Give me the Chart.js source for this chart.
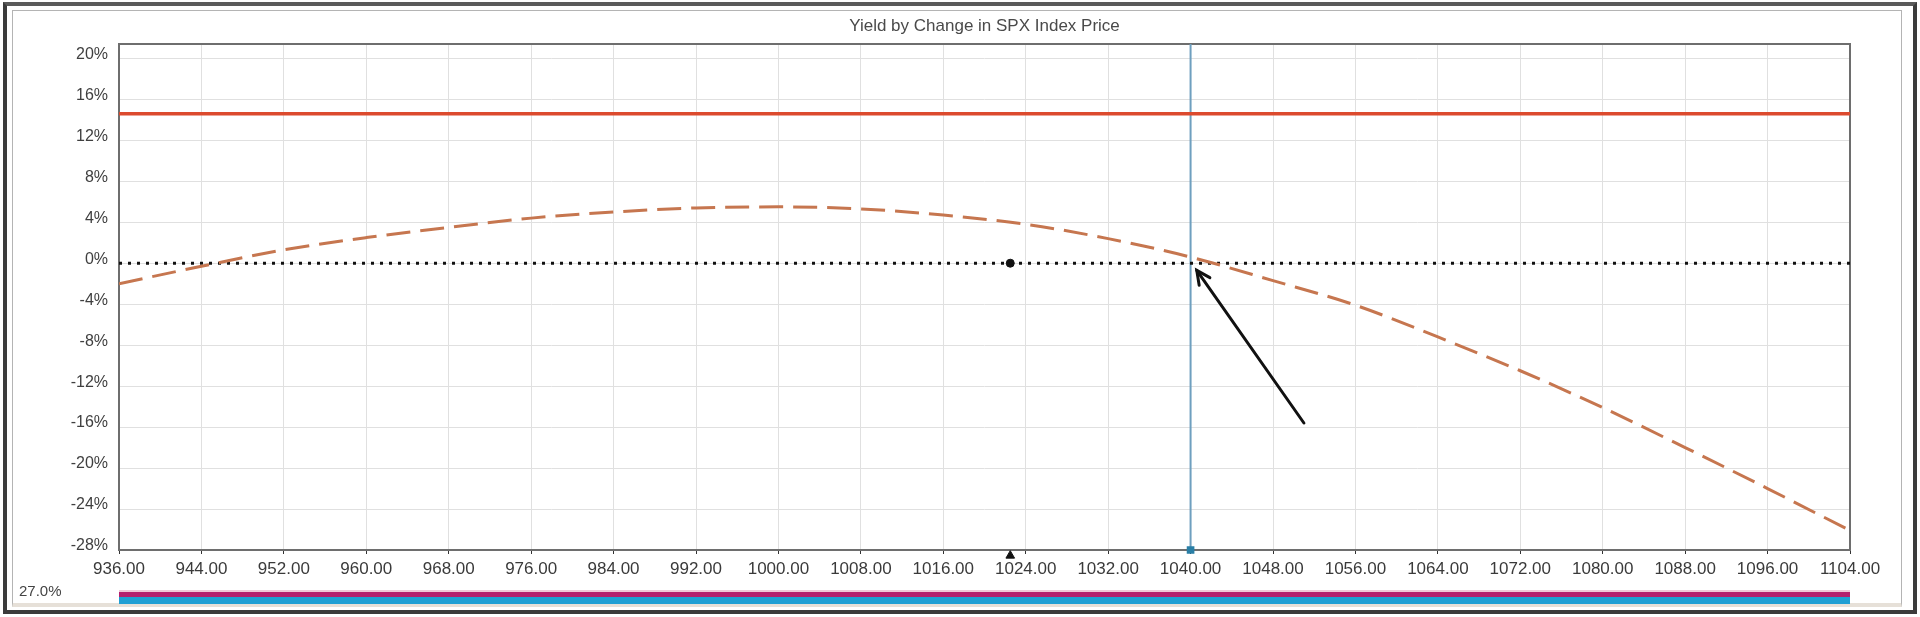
<!DOCTYPE html>
<html>
<head>
<meta charset="utf-8">
<script src="https://cdn.jsdelivr.net/npm/chart.js@4.4.1/dist/chart.umd.min.js"></script>
<style>
  html, body { margin: 0; padding: 0; background: #fff; }
  body { width: 1920px; height: 617px; position: relative; overflow: hidden; }
  .frame-outer { position: absolute; left: 3px; top: 2px; width: 1906px; height: 604px; border: 4px solid #3b3b3b; border-top-color: #5a5a5a; }
  .frame-inner { position: absolute; left: 12px; top: 10px; width: 1888px; height: 592px; border: 1px solid #b4b4b4; border-bottom: 4px solid #e6e0d8; }
  #wrap { position: absolute; left: 0; top: 0; width: 1920px; height: 617px; }
</style>
</head>
<body>
<div class="frame-outer"></div>
<div class="frame-inner"></div>
<div id="wrap"><canvas id="chartYield"></canvas></div>
<script>
// SPX price points along the x axis
const prices = [936, 944, 952, 960, 968, 976, 984, 992, 1000, 1008, 1016,
  1024, 1032, 1040, 1048, 1056, 1064, 1072, 1080, 1088, 1096, 1104]
// yield (%) of the position at each price
const yieldPct = [-2.0, -0.3, 1.3, 2.5, 3.5, 4.4, 5.0, 5.4, 5.5, 5.3, 4.7,
  3.8, 2.4, 0.6, -1.7, -4.1, -7.2, -10.5, -14.1, -18.0, -22.0, -26.1]
const yTicks = [-28, -24, -20, -16, -12, -8, -4, 0, 4, 8, 12, 16, 20]
const yMin = -28
const yMax = 21.4
const targetYield = 14.6
const zeroLine = 0
const currentPrice = 1022.5
const markerPrice = 1040
const arrowFrom = [1051, -15.6]
const arrowTo = [1040.6, -0.7]
const rangeBar = [936, 1104]
const rangeLabel = '27.0%'
const chartTitle = 'Yield by Change in SPX Index Price'

const FONT = '"Liberation Sans", Arial, sans-serif'
const xMin = prices[0]
const xMax = prices[prices.length - 1]

const decorations = {
  id: 'decorations',
  beforeDatasetsDraw(chart) {
    const { ctx, chartArea: a } = chart
    ctx.save()
    ctx.strokeStyle = '#6e6e6e'
    ctx.lineWidth = 2
    ctx.strokeRect(a.left, a.top, a.right - a.left, a.bottom - a.top)
    ctx.restore()
  },
  afterDatasetsDraw(chart) {
    const { ctx, chartArea: a, scales } = chart
    const x = scales.x
    const y = scales.y
    ctx.save()

    // title
    ctx.fillStyle = '#4a4a4a'
    ctx.font = '17px ' + FONT
    ctx.textAlign = 'center'
    ctx.textBaseline = 'middle'
    ctx.fillText(chartTitle, (a.left + a.right) / 2, 26)

    // arrow
    const x1 = x.getPixelForValue(arrowFrom[0])
    const y1 = y.getPixelForValue(arrowFrom[1])
    const x2 = x.getPixelForValue(arrowTo[0])
    const y2 = y.getPixelForValue(arrowTo[1])
    const ang = Math.atan2(y2 - y1, x2 - x1)
    ctx.strokeStyle = '#111'
    ctx.lineWidth = 3
    ctx.lineCap = 'round'
    ctx.beginPath()
    ctx.moveTo(x1, y1)
    ctx.lineTo(x2, y2)
    ctx.stroke()
    ctx.beginPath()
    ctx.moveTo(x2 - 15 * Math.cos(ang - 0.45), y2 - 15 * Math.sin(ang - 0.45))
    ctx.lineTo(x2, y2)
    ctx.lineTo(x2 - 15 * Math.cos(ang + 0.45), y2 - 15 * Math.sin(ang + 0.45))
    ctx.stroke()

    // range bar under the axis
    const bx1 = x.getPixelForValue(rangeBar[0])
    const bx2 = x.getPixelForValue(rangeBar[1])
    ctx.fillStyle = '#f0c8d8'
    ctx.fillRect(bx1, 590, bx2 - bx1, 2)
    ctx.fillStyle = '#b51f6e'
    ctx.fillRect(bx1, 592, bx2 - bx1, 5)
    ctx.fillStyle = '#1f9fd4'
    ctx.fillRect(bx1, 597, bx2 - bx1, 7)

    ctx.fillStyle = '#444'
    ctx.font = '15px ' + FONT
    ctx.textAlign = 'left'
    ctx.fillText(rangeLabel, 19, 592)
    ctx.restore()
  },
}

const ctx = document.getElementById('chartYield').getContext('2d')
new Chart(ctx, {
  type: 'line',
  data: {
    datasets: [
      {
        label: 'Yield',
        data: prices.map((p, i) => ({ x: p, y: yieldPct[i] })),
        borderColor: '#c6764f',
        borderWidth: 3,
        borderDash: [24, 10],
        pointRadius: 0,
        tension: 0.4,
        cubicInterpolationMode: 'monotone',
      },
      {
        label: 'Target',
        data: [{ x: xMin, y: targetYield }, { x: xMax, y: targetYield }],
        borderColor: '#dc4a2e',
        borderWidth: 3.5,
        pointRadius: 0,
      },
      {
        label: 'Zero',
        data: [{ x: xMin, y: zeroLine }, { x: xMax, y: zeroLine }],
        borderColor: '#111',
        borderWidth: 3,
        borderDash: [3, 6],
        pointRadius: 0,
      },
      {
        label: 'Marker',
        data: [{ x: markerPrice, y: yMax }, { x: markerPrice, y: yMin }],
        borderColor: '#6e9fbf',
        borderWidth: 2,
        pointRadius: [0, 4],
        pointStyle: 'rect',
        pointBackgroundColor: '#2a7fa6',
        pointBorderColor: '#2a7fa6',
        clip: false,
      },
      {
        label: 'Current',
        data: [{ x: currentPrice, y: zeroLine }],
        showLine: false,
        pointRadius: 4,
        pointBackgroundColor: '#111',
        pointBorderColor: '#111',
      },
      {
        label: 'Current tick',
        data: [{ x: currentPrice, y: yMin - 0.55 }],
        showLine: false,
        pointStyle: 'triangle',
        pointRadius: 5,
        pointBackgroundColor: '#111',
        pointBorderColor: '#111',
        clip: false,
      },
    ],
  },
  options: {
    responsive: true,
    maintainAspectRatio: false,
    animation: false,
    layout: { padding: { top: 44, right: 70, bottom: 37, left: 0 } },
    plugins: {
      legend: { display: false },
      tooltip: { enabled: false },
    },
    scales: {
      x: {
        type: 'linear',
        min: xMin,
        max: xMax,
        afterFit: scale => { scale.height = 30 },
        ticks: {
          stepSize: 8,
          color: '#3a3a3a',
          font: { family: FONT, size: 17 },
          padding: 5,
          maxRotation: 0,
          autoSkip: false,
          callback: v => Number(v).toFixed(2),
        },
        grid: { color: '#e0e0e0', lineWidth: 1, tickLength: 4, tickColor: '#333' },
        border: { display: false },
      },
      y: {
        min: yMin,
        max: yMax,
        afterFit: scale => { scale.width = 119 },
        afterBuildTicks: scale => { scale.ticks = yTicks.map(v => ({ value: v })) },
        ticks: {
          color: '#3f3f3f',
          font: { family: FONT, size: 16 },
          padding: 11,
          labelOffset: -4,
          callback: v => v + '%',
        },
        grid: { color: '#e0e0e0', lineWidth: 1, drawTicks: false },
        border: { display: false },
      },
    },
  },
  plugins: [decorations],
})
</script>
</body>
</html>
